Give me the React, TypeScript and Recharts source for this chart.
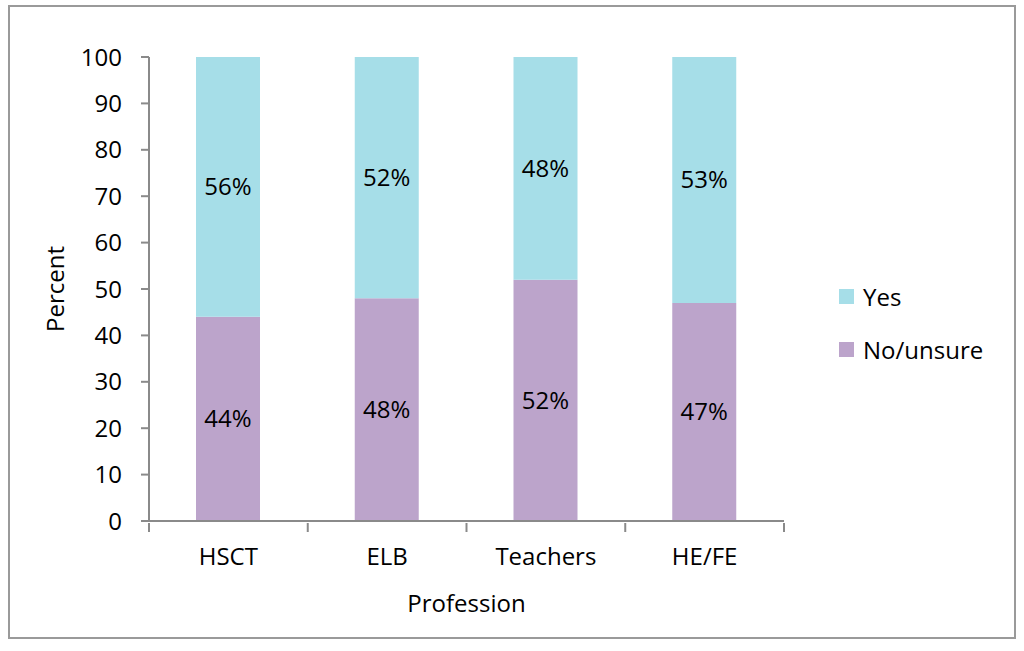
import { BarChart, Bar, XAxis, YAxis, LabelList } from "recharts";

const professions = ["HSCT", "ELB", "Teachers", "HE/FE"];
const noUnsure = [44, 48, 52, 47];
const yes = [56, 52, 48, 53];
const yTicks = [0, 10, 20, 30, 40, 50, 60, 70, 80, 90, 100];

const series = [
  { key: "noUnsure", name: "No/unsure", color: "#BCA4CB" },
  { key: "yes", name: "Yes", color: "#A6DEE8" },
];

const data = professions.map((p, i) => ({
  profession: p,
  noUnsure: noUnsure[i],
  yes: yes[i],
}));

const FONT = "'Open Sans', sans-serif";
const FS = 24;
const AXIS = "#8a8a8a";

// Excel-style category tick: marks sit on the band edges, label in the middle
const CategoryTick = (props: any) => {
  const { x, y, payload, index, visibleTicksCount } = props;
  const half = payload && payload.offset ? payload.offset : 79.4;
  const last = index === visibleTicksCount - 1;
  return (
    <g>
      <line x1={x - half} x2={x - half} y1={y} y2={y + 9} stroke={AXIS} strokeWidth={2} />
      {last && <line x1={x + half} x2={x + half} y1={y} y2={y + 9} stroke={AXIS} strokeWidth={2} />}
      <text x={x} y={y + 42} textAnchor="middle" fill="#000" fontSize={FS} fontFamily={FONT}>
        {payload.value}
      </text>
    </g>
  );
};

export default function App() {
  return (
    <div
      style={{
        position: "absolute",
        left: 8,
        top: 5,
        width: 1008,
        height: 634,
        border: "2px solid #9a9a9a",
        boxSizing: "border-box",
        background: "#fff",
        fontFamily: FONT,
      }}
    >
      <BarChart
        width={1004}
        height={630}
        data={data}
        margin={{ top: 50, right: 230, left: 0, bottom: 21 }}
        barCategoryGap={0}
      >
        <XAxis
          dataKey="profession"
          height={95}
          axisLine={{ stroke: AXIS, strokeWidth: 2 }}
          tickLine={false}
          tickSize={0}
          tick={<CategoryTick />}
          interval={0}
          label={{
            value: "Profession",
            position: "insideBottom",
            offset: 4,
            fill: "#000",
            fontSize: FS,
            fontFamily: FONT,
          }}
        />
        <YAxis
          width={139}
          domain={[0, 100]}
          ticks={yTicks}
          interval={0}
          tickSize={8}
          tickMargin={19}
          axisLine={{ stroke: AXIS, strokeWidth: 2 }}
          tickLine={{ stroke: AXIS, strokeWidth: 2 }}
          tick={{ fill: "#000", fontSize: FS, fontFamily: FONT }}
          label={{
            value: "Percent",
            angle: -90,
            position: "insideLeft",
            offset: 45,
            fill: "#000",
            fontSize: FS,
            fontFamily: FONT,
            style: { textAnchor: "middle" },
          }}
        />
        {series.map((s) => (
          <Bar
            key={s.key}
            dataKey={s.key}
            name={s.name}
            stackId="a"
            fill={s.color}
            barSize={64}
            isAnimationActive={false}
          >
            <LabelList
              dataKey={s.key}
              position="center"
              formatter={(v: any) => `${v}%`}
              fill="#000"
              fontSize={FS}
              fontFamily={FONT}
            />
          </Bar>
        ))}
      </BarChart>
      <div style={{ position: "absolute", left: 829, top: 263 }}>
        {[...series].reverse().map((s) => (
          <div
            key={s.key}
            style={{ display: "flex", alignItems: "center", height: 53, fontSize: FS, color: "#000" }}
          >
            <span
              style={{ display: "inline-block", width: 15, height: 15, background: s.color, marginRight: 9 }}
            />
            {s.name}
          </div>
        ))}
      </div>
    </div>
  );
}
